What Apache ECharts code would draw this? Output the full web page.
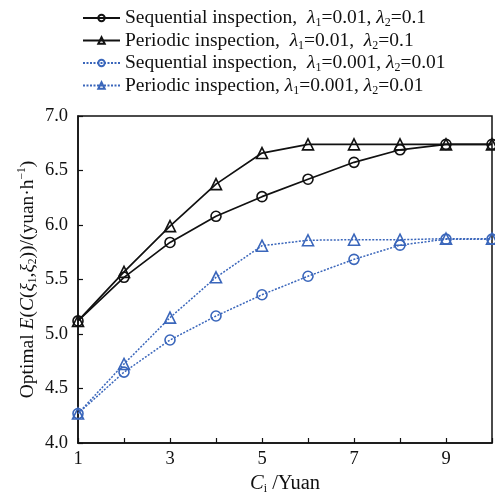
<!DOCTYPE html>
<html>
<head>
<meta charset="utf-8">
<script src="https://cdn.jsdelivr.net/npm/echarts@6/dist/echarts.min.js"></script>
<style>
  html, body { margin: 0; padding: 0; background: #fff; }
  #chart { width: 495px; height: 495px; }
</style>
</head>
<body>
<div id="chart"></div>
<script>
// inspection cost C_i (Yuan)
const costs = [1, 2, 3, 4, 5, 6, 7, 8, 9, 10];
const xTickLabels = ['1', '', '3', '', '5', '', '7', '', '9', ''];

// lambda1=0.01, lambda2=0.1
const seqHigh = [5.12, 5.52, 5.84, 6.08, 6.26, 6.42, 6.575, 6.69, 6.74, 6.74];
const perHigh = [5.12, 5.57, 5.99, 6.375, 6.66, 6.74, 6.74, 6.74, 6.74, 6.74];
// lambda1=0.001, lambda2=0.01
const seqLow = [4.27, 4.65, 4.945, 5.165, 5.36, 5.53, 5.685, 5.815, 5.87, 5.87];
const perLow = [4.27, 4.725, 5.15, 5.52, 5.81, 5.86, 5.865, 5.865, 5.875, 5.875];

const seriesNames = ['seqHigh', 'perHigh', 'seqLow', 'perLow'];
const legendTexts = {
  seqHigh: '{n|Sequential inspection,  }{i|λ}{s|1}{n|=0.01, }{i|λ}{s|2}{n|=0.1}',
  perHigh: '{n|Periodic inspection,  }{i|λ}{s|1}{n|=0.01,  }{i|λ}{s|2}{n|=0.1}',
  seqLow: '{n|Sequential inspection,  }{i|λ}{s|1}{n|=0.001, }{i|λ}{s|2}{n|=0.01}',
  perLow: '{n|Periodic inspection, }{i|λ}{s|1}{n|=0.001, }{i|λ}{s|2}{n|=0.01}'
};

const BLACK = '#111';
const BLUE = '#3a66bb';
const FONT = 'Liberation Serif';

const chart = echarts.init(document.getElementById('chart'));

function makeSeries(name, data, color, symbol, dotted) {
  return {
    name: name,
    type: 'line',
    data: costs.map((c, i) => [c, data[i]]),
    symbol: symbol,
    symbolSize: symbol === 'triangle' ? 11 : 10,
    showSymbol: true,
    itemStyle: { color: 'rgba(255,255,255,0)', borderColor: color, borderWidth: 1.6 },
    lineStyle: { color: color, width: dotted ? 1.5 : 1.7, type: dotted ? [2, 1.5] : 'solid' },
    emphasis: { disabled: true },
    animation: false
  };
}

const option = {
  backgroundColor: '#fff',
  animation: false,
  textStyle: { fontFamily: FONT },
  legend: {
    orient: 'vertical',
    left: 77,
    top: 2,
    itemWidth: 37,
    itemHeight: 8,
    itemGap: 0.5,
    data: seriesNames,
    formatter: name => legendTexts[name],
    textStyle: {
      fontFamily: FONT,
      color: '#111',
      rich: {
        n: { fontSize: 19.5, fontFamily: FONT, color: '#111', lineHeight: 20 },
        i: { fontSize: 19.5, fontFamily: FONT, fontStyle: 'italic', color: '#111', lineHeight: 20 },
        s: { fontSize: 12, fontFamily: FONT, color: '#111', padding: [10, 0, 0, 0], lineHeight: 20 }
      }
    }
  },
  grid: {
    left: 78, right: 3, top: 116, bottom: 52,
    outerBoundsMode: 'none',
    show: true, borderColor: '#111', borderWidth: 1.5, backgroundColor: 'transparent'
  },
  xAxis: {
    type: 'value',
    min: 1, max: 10, interval: 1,
    name: '{ci|C}{sub|i}{n| /Yuan}',
    nameLocation: 'middle',
    nameGap: 29,
    nameMoveOverlap: false,
    nameTextStyle: {
      rich: {
        ci: { fontSize: 20.5, fontFamily: FONT, fontStyle: 'italic', color: '#111' },
        sub: { fontSize: 12, fontFamily: FONT, color: '#111', padding: [11, 0, 0, 0] },
        n: { fontSize: 20.5, fontFamily: FONT, color: '#111' }
      }
    },
    axisLine: { show: true, onZero: false, lineStyle: { color: '#111', width: 1.5 } },
    axisTick: { show: true, inside: true, length: 5, lineStyle: { color: '#111', width: 1.2 } },
    axisLabel: {
      fontSize: 18.5, fontFamily: FONT, color: '#111', margin: 7,
      formatter: v => xTickLabels[costs.indexOf(v)] || ''
    },
    splitLine: { show: false }
  },
  yAxis: {
    type: 'value',
    min: 4.0, max: 7.0, interval: 0.5,
    name: '{n|Optimal }{it|E}{n|(}{it|C}{n|(}{it|ξ}{sub|1}{n|,}{it|ξ}{sub|2}{n|))/(yuan·h}{sup|−1}{n|)}',
    nameLocation: 'middle',
    nameRotate: 90,
    nameGap: 39,
    nameMoveOverlap: false,
    nameTextStyle: {
      rich: {
        n: { fontSize: 19.5, fontFamily: FONT, color: '#111' },
        it: { fontSize: 19.5, fontFamily: FONT, fontStyle: 'italic', color: '#111' },
        sub: { fontSize: 11.5, fontFamily: FONT, color: '#111', padding: [11, 0, 0, 0] },
        sup: { fontSize: 11.5, fontFamily: FONT, color: '#111', padding: [0, 0, 11, 0] }
      }
    },
    axisLine: { show: true, lineStyle: { color: '#111', width: 1.5 } },
    axisTick: { show: true, inside: true, length: 5, lineStyle: { color: '#111', width: 1.2 } },
    axisLabel: {
      fontSize: 18.5, fontFamily: FONT, color: '#111', margin: 10,
      formatter: v => v.toFixed(1)
    },
    splitLine: { show: false }
  },
  series: [
    makeSeries('seqHigh', seqHigh, BLACK, 'circle', false),
    makeSeries('perHigh', perHigh, BLACK, 'triangle', false),
    makeSeries('seqLow', seqLow, BLUE, 'circle', true),
    makeSeries('perLow', perLow, BLUE, 'triangle', true)
  ]
};

chart.setOption(option);
</script>
</body>
</html>
